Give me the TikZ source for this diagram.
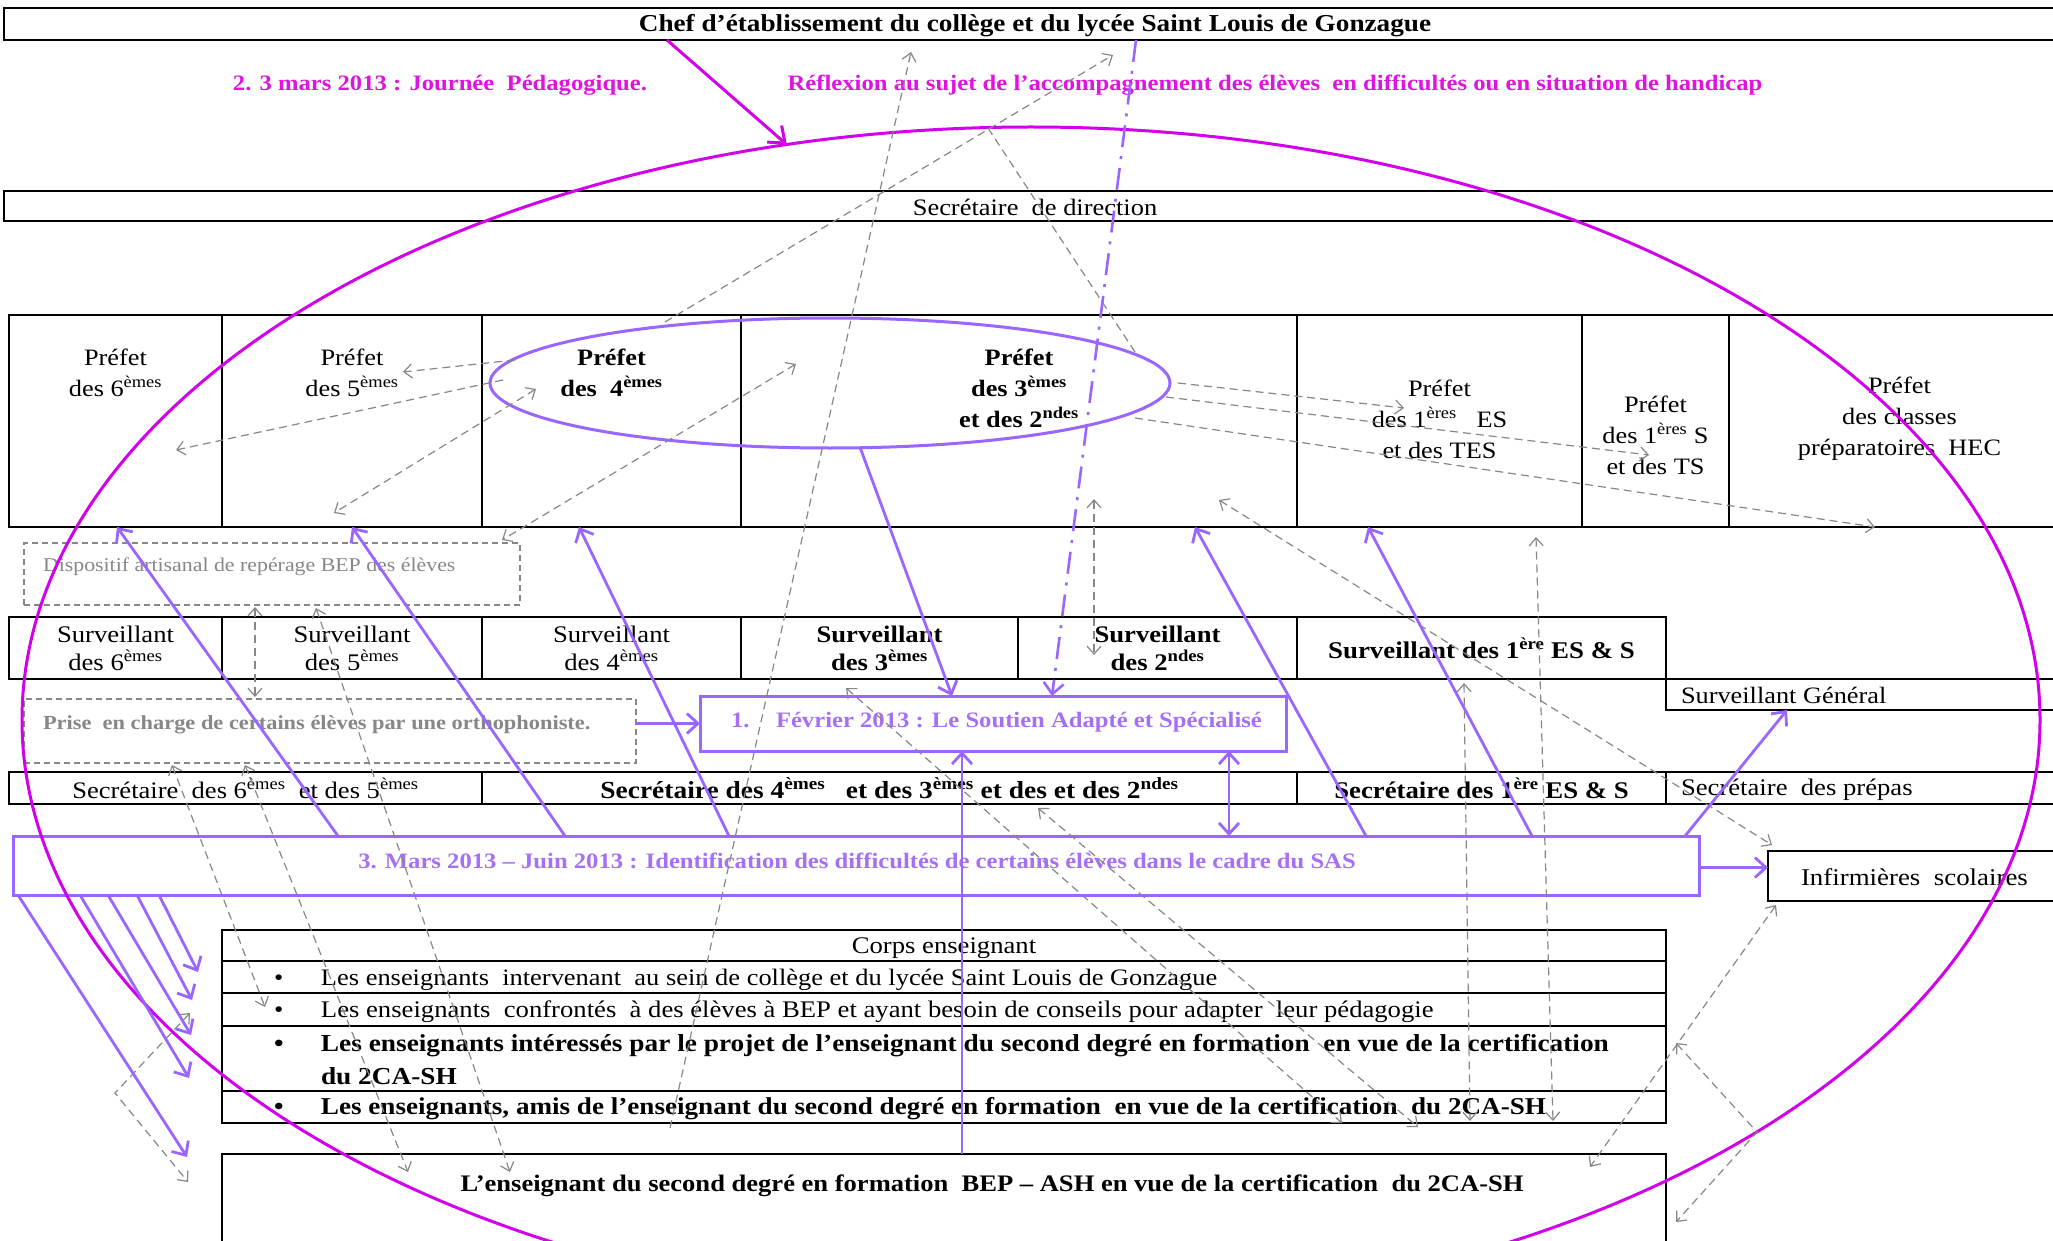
\documentclass[tikz,border=0pt]{standalone}
\usepackage{fontspec}
\setmainfont{Liberation Serif}[FakeStretch=1.12]
\usetikzlibrary{arrows.meta,shapes.geometric}
\definecolor{mag}{RGB}{210,0,235}
\definecolor{magtxt}{RGB}{224,20,224}
\definecolor{lav}{RGB}{153,102,255}
\definecolor{lavtxt}{RGB}{165,112,245}
\definecolor{dgray}{RGB}{135,135,135}
\newcommand\fsz[2]{\fontsize{#1}{#2}\selectfont}
\newcommand\sps[1]{\textsuperscript{#1}}
\begin{document}
\begin{tikzpicture}[x=1pt,y=-1pt,
  blk/.style={draw=black,line width=1.6pt,rectangle,inner sep=0pt,outer sep=0pt,anchor=north west},
  dbox/.style={draw=dgray,line width=1.3pt,dash pattern=on 6pt off 4pt,rectangle,inner sep=0pt,outer sep=0pt,anchor=north west},
  lbox/.style={draw=lav,line width=3pt,rectangle,inner sep=0pt,outer sep=0pt,anchor=north west},
  txt/.style={inner sep=0pt,outer sep=0pt,align=center},
  reg/.style={txt,font=\fsz{23.5}{31}},
  bld/.style={txt,font=\fsz{23.5}{31}\bfseries},
  garr/.style={draw=dgray,line width=1.2pt,dash pattern=on 8pt off 5pt,-{Straight Barb[length=8pt,width=14pt]}},
  gboth/.style={draw=dgray,line width=1.2pt,dash pattern=on 8pt off 5pt,{Straight Barb[length=8pt,width=14pt]}-{Straight Barb[length=8pt,width=14pt]}},
  gline/.style={draw=dgray,line width=1.2pt,dash pattern=on 8pt off 5pt},
  larr/.style={draw=lav,line width=2.8pt,-{Straight Barb[length=11pt,width=20pt]}},
  lboth/.style={draw=lav,line width=2.8pt,{Straight Barb[length=11pt,width=20pt]}-{Straight Barb[length=11pt,width=20pt]}}
]
\useasboundingbox (0,0) rectangle (2053,1241);
\fill[white] (0,0) rectangle (2053,1241);
\clip (0,0) rectangle (2053,1241);

% ---------- top ----------
\node[blk,minimum width=2060pt,minimum height=32pt] (chef) at (4,8) {};
\node[txt,font=\fsz{24.3}{28}\bfseries] (cheft) at (1035,26) {Chef d’établissement du collège et du lycée Saint Louis de Gonzague};
\node[txt,font=\fsz{22}{26}\bfseries,text=magtxt] (lab2) at (440,85) {2. 3 mars 2013 : Journée~ Pédagogique.};
\node[txt,font=\fsz{22}{26}\bfseries,text=magtxt] (labr) at (1275,85) {Réflexion au sujet de l’accompagnement des élèves~ en difficultés ou en situation de handicap};
\node[blk,minimum width=2060pt,minimum height=30pt] (secdir) at (4,191) {};
\node[txt,font=\fsz{23.6}{27}] (secdirt) at (1035,207) {Secrétaire~ de direction};

% ---------- Préfets ----------
\node[blk,minimum width=213pt,minimum height=212pt] (p6) at (9,315) {};
\node[blk,minimum width=260pt,minimum height=212pt] (p5) at (222,315) {};
\node[blk,minimum width=259pt,minimum height=212pt] (p4) at (482,315) {};
\node[blk,minimum width=556pt,minimum height=212pt] (p3) at (741,315) {};
\node[blk,minimum width=285pt,minimum height=212pt] (p1es) at (1297,315) {};
\node[blk,minimum width=147pt,minimum height=212pt] (p1s) at (1582,315) {};
\node[blk,minimum width=341pt,minimum height=212pt] (phec) at (1729,315) {};
\node[reg] (p6t) at (115.5,373) {Préfet\\des 6\sps{èmes}};
\node[reg] (p5t) at (352,373) {Préfet\\des 5\sps{èmes}};
\node[bld] (p4t) at (611.5,373) {Préfet\\des~ 4\sps{èmes}};
\node[bld] (p3t) at (1019,388) {Préfet\\des 3\sps{èmes}\\et des 2\sps{ndes}};
\node[reg] (p1est) at (1439.5,419) {Préfet\\des 1\sps{ères}~~ ES\\et des TES};
\node[reg] (p1st) at (1655.5,435) {Préfet\\des 1\sps{ères} S\\et des TS};
\node[reg] (phect) at (1899.5,419) {Préfet\\des classes\\préparatoires~ HEC};

% ---------- dashed boxes ----------
\node[dbox,minimum width=496pt,minimum height=62pt] (disp) at (24,543) {};
\node[txt,anchor=west,font=\fsz{19.5}{22},text=dgray] (dispt) at (43,567) {Dispositif artisanal de repérage BEP des élèves};

% ---------- Surveillants ----------
\node[blk,minimum width=213pt,minimum height=62pt,font=\fsz{23.8}{28},align=center] (s6) at (9,617) {Surveillant\\des 6\sps{èmes}};
\node[blk,minimum width=260pt,minimum height=62pt,font=\fsz{23.8}{28},align=center] (s5) at (222,617) {Surveillant\\des 5\sps{èmes}};
\node[blk,minimum width=259pt,minimum height=62pt,font=\fsz{23.8}{28},align=center] (s4) at (482,617) {Surveillant\\des 4\sps{èmes}};
\node[blk,minimum width=277pt,minimum height=62pt,font=\fsz{23.8}{28}\bfseries,align=center] (s3) at (741,617) {Surveillant\\des 3\sps{èmes}};
\node[blk,minimum width=279pt,minimum height=62pt,font=\fsz{23.8}{28}\bfseries,align=center] (s2) at (1018,617) {Surveillant\\des 2\sps{ndes}};
\node[blk,minimum width=369pt,minimum height=62pt,font=\fsz{24}{28}\bfseries,align=center] (s1) at (1297,617) {Surveillant des 1\sps{ère} ES \& S};
\node[blk,minimum width=404pt,minimum height=31pt] (sgen) at (1666,679) {};
\node[txt,anchor=west,font=\fsz{23.5}{27}] (sgent) at (1681,695) {Surveillant Général};

% ---------- Prise en charge + SAS 1 ----------
\node[dbox,minimum width=612pt,minimum height=64pt] (prise) at (24,699) {};
\node[txt,anchor=west,font=\fsz{20}{24}\bfseries,text=dgray] (priset) at (43,725) {Prise~ en charge de certains élèves par une orthophoniste.};
\node[lbox,minimum width=586pt,minimum height=55pt] (sas1) at (700,696) {};
\node[txt,anchor=west,font=\fsz{22}{26}\bfseries,text=lavtxt] (sas1t) at (731,722) {\makebox[45pt][l]{1.}Février 2013 : Le Soutien Adapté et Spécialisé};

% ---------- Secrétaires ----------
\node[blk,minimum width=473pt,minimum height=32pt,font=\fsz{23.7}{27}] (sec65) at (9,772) {Secrétaire~ des 6\sps{èmes}~ et des 5\sps{èmes}};
\node[blk,minimum width=815pt,minimum height=32pt,font=\fsz{24.5}{27}\bfseries] (sec43) at (482,772) {Secrétaire des 4\sps{èmes}~~ et des 3\sps{èmes} et des et des 2\sps{ndes}};
\node[blk,minimum width=369pt,minimum height=32pt,font=\fsz{23.9}{27}\bfseries] (sec1) at (1297,772) {Secrétaire des 1\sps{ère} ES \& S};
\node[blk,minimum width=404pt,minimum height=32pt] (secp) at (1666,772) {};
\node[txt,anchor=west,font=\fsz{23.8}{27}] (secpt) at (1681,790) {Secrétaire~ des prépas};

% ---------- SAS 3 + infirmières ----------
\node[lbox,minimum width=1686pt,minimum height=59pt] (sas3) at (13,836) {};
\node[txt,font=\fsz{22}{26}\bfseries,text=lavtxt] (sas3t) at (857,861) {3. Mars 2013 – Juin 2013 : Identification des difficultés de certains élèves dans le cadre du SAS};
\node[blk,minimum width=302pt,minimum height=50pt] (infirm) at (1768,851) {};
\node[txt,anchor=west,font=\fsz{24}{28}] (infirmt) at (1801,877) {Infirmières~ scolaires};

% ---------- Corps enseignant ----------
\node[blk,minimum width=1444pt,minimum height=31pt] (ct0) at (222,930) {};
\node[txt,font=\fsz{23.8}{27}] (ct0t) at (944,948) {Corps enseignant};
\node[blk,minimum width=1444pt,minimum height=32pt] (ct1) at (222,961) {};
\node[blk,minimum width=1444pt,minimum height=33pt] (ct2) at (222,993) {};
\node[blk,minimum width=1444pt,minimum height=65pt] (ct3) at (222,1026) {};
\node[blk,minimum width=1444pt,minimum height=32pt] (ct4) at (222,1091) {};
\node[txt,anchor=west,font=\fsz{23.6}{27}] (ct1t) at (274,980) {\makebox[47pt][l]{\textbullet}Les enseignants~ intervenant~ au sein de collège et du lycée Saint Louis de Gonzague};
\node[txt,anchor=west,font=\fsz{23.8}{27}] (ct2t) at (274,1012) {\makebox[47pt][l]{\textbullet}Les enseignants~ confrontés~ à des élèves à BEP et ayant besoin de conseils pour adapter~ leur pédagogie};
\node[txt,anchor=west,font=\fsz{24.4}{28}\bfseries] (ct3t) at (274,1046) {\makebox[47pt][l]{\textbullet}Les enseignants intéressés par le projet de l’enseignant du second degré en formation~ en vue de la certification};
\node[txt,anchor=west,font=\fsz{24.4}{28}\bfseries] (ct3u) at (321,1076) {du 2CA-SH};
\node[txt,anchor=west,font=\fsz{24.2}{28}\bfseries] (ct4t) at (274,1109) {\makebox[47pt][l]{\textbullet}Les enseignants, amis de l’enseignant du second degré en formation~ en vue de la certification~ du 2CA-SH};
\node[blk,minimum width=1444pt,minimum height=130pt] (ens) at (222,1154) {};
\node[txt,font=\fsz{23.7}{28}\bfseries] (enst) at (992,1186) {L’enseignant du second degré en formation~ BEP – ASH en vue de la certification~ du 2CA-SH};

% ---------- ellipses ----------
\node[draw=mag,line width=3pt,ellipse,minimum width=2018pt,minimum height=1186pt,inner sep=0pt,outer sep=0pt] (big) at (1031,720) {};
\node[draw=lav,line width=3pt,ellipse,minimum width=680pt,minimum height=130pt,inner sep=0pt,outer sep=0pt] (ell) at (830,383) {};

% ---------- gray dashed connectors ----------
\coordinate (g1a) at (670,1128); \coordinate (g1b) at (911,52);
\coordinate (g2a) at (665,322);  \coordinate (g2b) at (1113,55);
\coordinate (g3a) at (988,128);  \coordinate (g3b) at (1135,352);
\coordinate (q1a) at (515,360);  \coordinate (q1b) at (403,372);
\coordinate (q2a) at (503,380);  \coordinate (q2b) at (176,450);
\coordinate (q3a) at (536,389);  \coordinate (q3b) at (334,513);
\coordinate (q4a) at (796,364);  \coordinate (q4b) at (502,540);
\coordinate (r1a) at (1178,383); \coordinate (r1b) at (1404,408);
\coordinate (r2a) at (1166,397); \coordinate (r2b) at (1649,455);
\coordinate (r3a) at (1135,418); \coordinate (r3b) at (1875,527);
\coordinate (v1a) at (1094,499); \coordinate (v1b) at (1094,655);
\coordinate (g4a) at (1219,500); \coordinate (g4b) at (1772,845);
\coordinate (g5a) at (1536,537); \coordinate (g5b) at (1553,1121);
\coordinate (g6a) at (1464,683); \coordinate (g6b) at (1470,1121);
\coordinate (g8a) at (255,607);  \coordinate (g8b) at (255,697);
\coordinate (lba) at (316,608);  \coordinate (lbb) at (510,1172);
\coordinate (lca) at (172,765);  \coordinate (lcb) at (265,1007);
\coordinate (lda) at (245,765);  \coordinate (ldb) at (408,1172);
\coordinate (lfa) at (846,688);  \coordinate (lfb) at (1342,1123);
\coordinate (lga) at (1038,808); \coordinate (lgb) at (1418,1127);
\coordinate (g9a) at (1776,905); \coordinate (g9b) at (1590,1167);
\coordinate (zla) at (190,1013); \coordinate (zlm) at (115,1093); \coordinate (zlb) at (188,1182);
\coordinate (zra) at (1676,1043); \coordinate (zrm) at (1757,1132); \coordinate (zrb) at (1676,1222);
\draw[garr] (g1a) -- (g1b);
\draw[garr] (g2a) -- (g2b);
\draw[gline] (g3a) -- (g3b);
\draw[garr] (q1a) -- (q1b);
\draw[garr] (q2a) -- (q2b);
\draw[gboth] (q3a) -- (q3b);
\draw[gboth] (q4a) -- (q4b);
\draw[garr] (r1a) -- (r1b);
\draw[garr] (r2a) -- (r2b);
\draw[garr] (r3a) -- (r3b);
\draw[gboth] (v1a) -- (v1b);
\draw[gboth] (g4a) -- (g4b);
\draw[gboth] (g5a) -- (g5b);
\draw[gboth] (g6a) -- (g6b);
\draw[gboth] (g8a) -- (g8b);
\draw[gboth] (lba) -- (lbb);
\draw[gboth] (lca) -- (lcb);
\draw[gboth] (lda) -- (ldb);
\draw[gboth] (lfa) -- (lfb);
\draw[gboth] (lga) -- (lgb);
\draw[gboth] (g9a) -- (g9b);
\draw[gboth] (zla) -- (zlm) -- (zlb);
\draw[gboth] (zra) -- (zrm) -- (zrb);

% ---------- magenta arrow ----------
\draw[draw=mag,line width=3pt,-{Straight Barb[length=14pt,width=22pt]}] ([xshift=-367pt]chef.south) -- (big.113);

% ---------- lavender connectors ----------
\draw[larr] (prise.east |- sas1.west) -- (sas1.west);
\draw[larr] (ell.-65) -- ([xshift=-41pt]sas1.north);
\draw[draw=lav,line width=2.6pt,dash pattern=on 22pt off 9pt on 3pt off 9pt,-{Straight Barb[length=11pt,width=20pt]}] ([xshift=102pt]chef.south) -- ([xshift=59pt]sas1.north);
\draw[lboth] ([xshift=236pt]sas1.south) coordinate (dd) -- (dd |- sas3.north);
\draw[larr] ([xshift=-31pt]sas1.south |- ens.north) -- ([xshift=-31pt]sas1.south);
\draw[larr] ([xshift=-518pt]sas3.north) -- ([xshift=1.5pt]p6.south);
\draw[larr] ([xshift=-291pt]sas3.north) -- (p5.south);
\draw[larr] ([xshift=-127pt]sas3.north) -- ([xshift=-32.5pt]p4.south);
\draw[larr] ([xshift=510pt]sas3.north) -- ([xshift=176pt]p3.south);
\draw[larr] ([xshift=676pt]sas3.north) -- ([xshift=-71.5pt]p1es.south);
\draw[larr] ([xshift=829pt]sas3.north) -- ([xshift=-81pt]sgen.south);
\draw[larr] ([yshift=-2pt]sas3.east) -- ([yshift=-2pt]sas3.east -| infirm.west);
\coordinate (c1) at (198,972);
\coordinate (c2) at (192,1000);
\coordinate (c3) at (191,1035);
\coordinate (c4) at (189,1078);
\coordinate (c5) at (187,1157);
\draw[larr] ([xshift=-697pt]sas3.south) -- (c1);
\draw[larr] ([xshift=-719pt]sas3.south) -- (c2);
\draw[larr] ([xshift=-748pt]sas3.south) -- (c3);
\draw[larr] ([xshift=-776pt]sas3.south) -- (c4);
\draw[larr] ([xshift=-838pt]sas3.south) -- (c5);
\end{tikzpicture}
\end{document}
